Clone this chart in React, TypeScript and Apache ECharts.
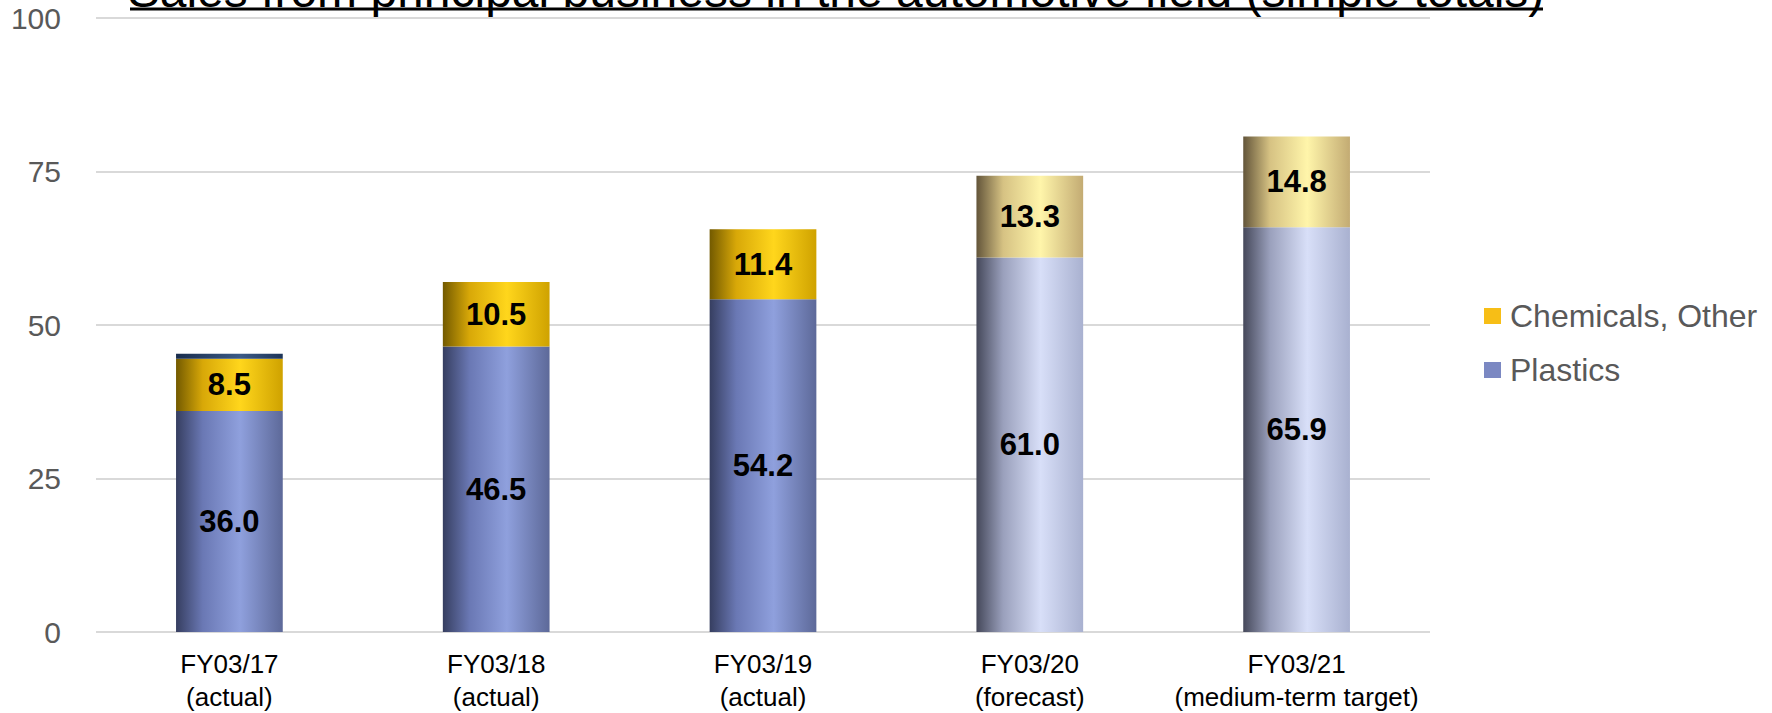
import React, { useEffect, useRef } from "react";
import * as echarts from "echarts";

const categories = [
  "FY03/17\n(actual)",
  "FY03/18\n(actual)",
  "FY03/19\n(actual)",
  "FY03/20\n(forecast)",
  "FY03/21\n(medium-term target)",
];
const plastics = [36.0, 46.5, 54.2, 61.0, 65.9];
const chemicals = [8.5, 10.5, 11.4, 13.3, 14.8];
const other = [0.8, 0, 0, 0, 0];
const isForecast = [false, false, false, true, true];
const yTicks = [0, 25, 50, 75, 100];
const titleText = "Sales from principal business in the automotive field (simple totals)";

const grad = (stops: [number, string][]) =>
  new echarts.graphic.LinearGradient(0, 0, 1, 0, stops.map(([offset, color]) => ({ offset, color })));

const plasticsActual = () => grad([[0, "#363e60"], [0.25, "#6a78b4"], [0.6, "#8fa0dd"], [1, "#5d6999"]]);
const plasticsFc = () => grad([[0, "#45485a"], [0.25, "#9aa0bc"], [0.6, "#d8dff8"], [1, "#a9b1d0"]]);
const chemActual = () => grad([[0, "#735a00"], [0.25, "#d8a808"], [0.6, "#ffd61c"], [1, "#cfa200"]]);
const chemFc = () => grad([[0, "#63553a"], [0.25, "#d6c283"], [0.6, "#fff5aa"], [1, "#c3ab73"]]);
const otherGrad = () => grad([[0, "#182c4c"], [0.6, "#3b5a86"], [1, "#1d3458"]]);

export default function App() {
  const ref = useRef<HTMLDivElement>(null);
  useEffect(() => {
    if (!ref.current) return;
    const chart = echarts.init(ref.current, undefined, { renderer: "svg" });
    const labelStyle = {
      show: true,
      position: "inside" as const,
      color: "#000",
      fontWeight: "bold" as const,
      fontSize: 31,
      fontFamily: "Liberation Sans, Arial, sans-serif",
      formatter: (p: any) => (p.value ? Number(p.value).toFixed(1) : ""),
    };
    chart.setOption({
      animation: false,
      backgroundColor: "#fff",
      textStyle: { fontFamily: "Liberation Sans, Arial, sans-serif" },
      grid: { left: 96, right: 342, top: 18, bottom: 77, containLabel: false },
      legend: {
        data: ["Chemicals, Other", "Plastics"],
        orient: "vertical",
        left: 1484,
        top: 300,
        padding: 0,
        itemWidth: 17,
        itemHeight: 16,
        itemGap: 22,
        icon: "rect",
        textStyle: { fontSize: 32, color: "#595959", padding: [0, 0, 0, 4] },
      },
      graphic: [
        {
          type: "text",
          x: 836,
          y: 14,
          style: {
            text: titleText,
            x: 0,
            y: 0,
            font: "48px 'Liberation Sans', Arial, sans-serif",
            fill: "#000",
            align: "center",
            verticalAlign: "bottom",
          },
          silent: true,
        },
        {
          type: "line",
          shape: { x1: 130, y1: 9, x2: 1543, y2: 9 },
          style: { stroke: "#000", lineWidth: 3 },
          silent: true,
        },
      ],
      xAxis: {
        type: "category",
        data: categories,
        axisLine: { show: false },
        axisTick: { show: false },
        axisLabel: { fontSize: 26, color: "#000", lineHeight: 33, margin: 15, interval: 0 },
      },
      yAxis: {
        type: "value",
        min: yTicks[0],
        max: yTicks[yTicks.length - 1],
        interval: 25,
        axisLine: { show: false },
        axisTick: { show: false },
        axisLabel: { fontSize: 30, color: "#595959", margin: 35 },
        splitLine: { lineStyle: { color: "#d9d9d9", width: 2 } },
      },
      series: [
        {
          name: "Plastics",
          type: "bar",
          stack: "total",
          barWidth: "40%",
          itemStyle: { color: "#7b88c2" },
          label: labelStyle,
          data: plastics.map((v, i) => ({
            value: v,
            itemStyle: { color: isForecast[i] ? plasticsFc() : plasticsActual() },
          })),
        },
        {
          name: "Chemicals, Other",
          type: "bar",
          stack: "total",
          barWidth: "40%",
          itemStyle: { color: "#f7be16" },
          label: labelStyle,
          data: chemicals.map((v, i) => ({
            value: v,
            itemStyle: { color: isForecast[i] ? chemFc() : chemActual() },
          })),
        },
        {
          name: "Other",
          type: "bar",
          stack: "total",
          barWidth: "40%",
          itemStyle: { color: "#1f3860" },
          label: { show: false },
          data: other.map((v) => ({ value: v, itemStyle: { color: otherGrad() } })),
        },
      ],
    });
    return () => chart.dispose();
  }, []);
  return (
    <div
      ref={ref}
      style={{ position: "fixed", left: 0, top: 0, width: 1772, height: 713 }}
    />
  );
}
